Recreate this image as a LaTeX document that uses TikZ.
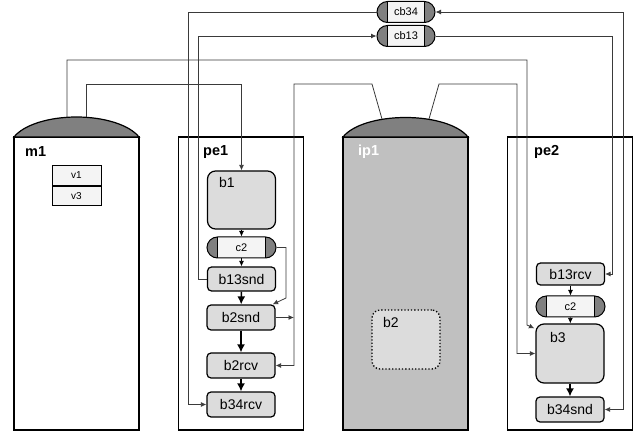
\documentclass[tikz,border=0pt]{standalone}
\usepackage{fontspec}
\setmainfont{Liberation Sans}
\usetikzlibrary{arrows.meta,calc}
\definecolor{domegray}{HTML}{808080}
\definecolor{ipgray}{HTML}{C0C0C0}
\definecolor{blkgray}{HTML}{DCDCDC}
\definecolor{lightfill}{HTML}{F4F4F4}
\definecolor{wiregray}{HTML}{3A3A3A}
\tikzset{
  container/.style={draw, line width=1.2pt, inner sep=0, outer sep=0, minimum width=125, minimum height=293},
  domepath/.style={draw, line width=1.2pt, fill=domegray},
  blk/.style={draw, line width=1.2pt, fill=blkgray, rounded corners=4pt, inner sep=0, minimum width=68, minimum height=24, font=\fontsize{14}{16}\selectfont},
  bigblk/.style={blk, rounded corners=8pt, minimum height=58},
  capsule/.style={draw, line width=1pt, fill=domegray, rounded corners=10.5pt, minimum width=#1, minimum height=21, inner sep=0, font=\fontsize{11}{12}\selectfont,
    path picture={
      \fill[lightfill, sharp corners] ([xshift=10.5pt]path picture bounding box.south west) rectangle ([xshift=-10.5pt]path picture bounding box.north east);
      \draw[line width=0.8pt, sharp corners] ([xshift=10.5pt]path picture bounding box.south west) -- ([xshift=10.5pt]path picture bounding box.north west)
        ([xshift=-10.5pt]path picture bounding box.south east) -- ([xshift=-10.5pt]path picture bounding box.north east);}},
  vcell/.style={draw, line width=0.8pt, fill=lightfill, minimum width=49, minimum height=19.5, inner sep=0, font=\fontsize{10}{12}\selectfont},
  ttl/.style={font=\bfseries\fontsize{14.5}{16}\selectfont, anchor=base west, inner sep=0},
  lbl/.style={font=\fontsize{14}{16}\selectfont, anchor=base west, inner sep=0},
  wire/.style={draw=wiregray, line width=0.8pt},
  thinarr/.style={draw=black, line width=0.8pt, ->},
  thickarr/.style={draw=black, line width=1.5pt, -{Latex[length=8pt,width=8pt]}},
  >={Latex[length=5.5pt,width=5pt]}
}
\begin{document}
\begin{tikzpicture}[x=1pt,y=-1pt]
\useasboundingbox (0,0) rectangle (641,433);
% containers
\node[container] (m1) at (76.5,283.5) {};
\node[container] (pe1) at (241,283.5) {};
\node[container, fill=ipgray] (ip1) at (405.5,283.5) {};
\node[container] (pe2) at (570,283.5) {};
% domes
\coordinate (m1top) at (76.5,117);
\coordinate (ip1top) at (405.5,117.5);
\draw[domepath] (m1.north west) .. controls +(9.5,-12) and +(-28,0) .. (m1top) .. controls +(28,0) and +(-9.5,-12) .. (m1.north east) -- cycle;
\draw[domepath] (ip1.north west) .. controls +(9.5,-12) and +(-28,0) .. (ip1top) .. controls +(28,0) and +(-9.5,-12) .. (ip1.north east) -- cycle;
% titles
\node[ttl] (m1t) at (25,157) {m1};
\node[ttl] (pe1t) at (203,156) {pe1};
\node[ttl, text=white] (ip1t) at (358,156) {ip1};
\node[ttl] (pe2t) at (534,156) {pe2};
% m1 table
\node[vcell] (v1) at (76.5,175.5) {v1};
\node[vcell, anchor=north] (v3) at (v1.south) {v3};
% pe1 nodes
\node[bigblk] (b1) at (241.5,200) {};
\node[lbl] (b1l) at (219,188) {b1};
\node[capsule=69] (c2a) at (241.5,247.5) {c2};
\node[blk] (b13snd) at (241.5,279) {b13snd};
\node[blk, minimum height=25] (b2snd) at (241,317.5) {b2snd};
\node[blk, minimum height=25] (b2rcv) at (241,365.5) {b2rcv};
\node[blk, minimum height=25] (b34rcv) at (241,404.5) {b34rcv};
% ip1 node
\node[draw, dotted, line width=1.3pt, fill=blkgray, rounded corners=8pt, minimum width=68, minimum height=59, inner sep=0] (b2) at (406,339.5) {};
\node[lbl] (b2l) at (383,327) {b2};
% pe2 nodes
\node[blk, minimum height=22] (b13rcv) at (570.5,274) {b13rcv};
\node[capsule=69] (c2b) at (570.5,306.5) {c2};
\node[bigblk, minimum height=59] (b3) at (570,353.5) {};
\node[lbl] (b3l) at (550,342) {b3};
\node[blk, minimum height=25] (b34snd) at (570,409.5) {b34snd};
% channel capsules
\node[capsule=58] (cb34) at (406,12) {cb34};
\node[capsule=58] (cb13) at (406,36) {cb13};
% internal arrows pe1
\draw[thinarr] (b1) -- (c2a);
\draw[thinarr] (c2a) -- (b13snd);
\draw[thickarr] (b13snd) -- (b2snd);
\draw[thickarr] (b2snd) -- (b2rcv);
\draw[thickarr] (b2rcv) -- (b34rcv);
% internal arrows pe2
\draw[thinarr] (b13rcv) -- (c2b);
\draw[thinarr] (c2b) -- (b3);
\draw[thickarr] (b3) -- (b34snd);
% attach points
\coordinate (m1a) at (67,117.5);
\coordinate (m1b) at (86,117.5);
\coordinate (ipa) at (382,119);
\coordinate (ipb) at (429,119);
\coordinate (ipl) at (294,84);
% wires
\draw[wire,->] (cb34.west) -| ($(b34rcv.west)+(-18.5,0)$) -- (b34rcv.west);
\draw[wire,<->] (cb34.east) -| ($(b34snd.east)+(19,0)$) -- (b34snd.east);
\draw[wire,->] (b13snd.west) -- ++(-9,0) |- (cb13.west);
\draw[wire,->] (cb13.east) -| ($(b13rcv.east)+(7.5,0)$) -- (b13rcv.east);
\draw[wire,->] (m1a) |- (527,60) -- (527,325) -- ($(b3.north west)+(-1,5)$);
\draw[wire,->] (m1b) -- (86,84) -| (b1.north);
\draw[wire,->] (ipa) -- (372,84) -- (ipl) |- (b2rcv.east);
\draw[wire,->] (b2snd.east) -- (b2snd.east -| ipl);
\draw[wire,->] (ipb) -- (439,84) -- (517,84) |- (b3.west);
\draw[wire,->] (c2a.east) -- (286,247.5) -- (286,298) -- ($(b2snd.north east)+(-3,0)$);
\end{tikzpicture}
\end{document}
